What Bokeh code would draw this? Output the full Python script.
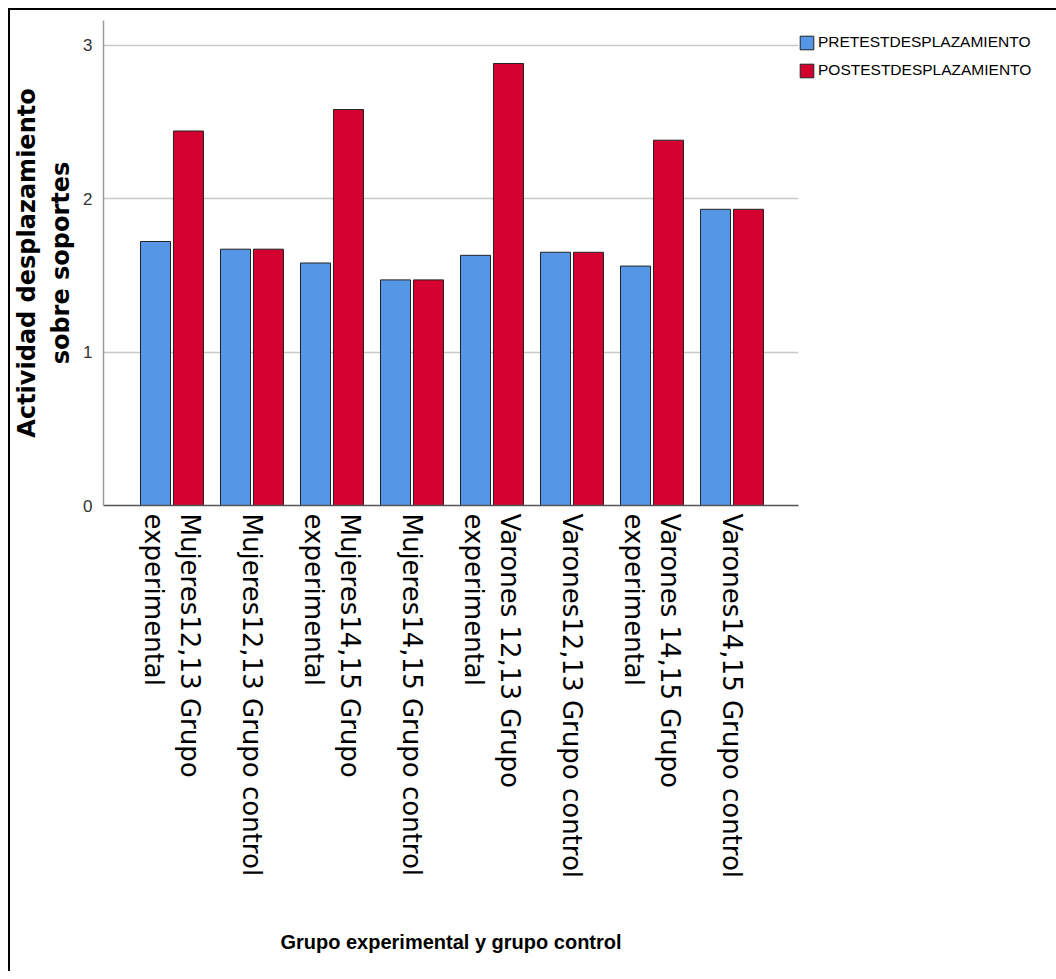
import math
from bokeh.plotting import figure
from bokeh.models import Range1d, FixedTicker, Legend, LegendItem, ColumnDataSource
from bokeh.transform import dodge
from bokeh.embed import file_html
from bokeh.resources import INLINE

groups = [
    "Mujeres12,13 Grupo\nexperimental",
    "Mujeres12,13 Grupo control",
    "Mujeres14,15 Grupo\nexperimental",
    "Mujeres14,15 Grupo control",
    "Varones 12,13 Grupo\nexperimental",
    "Varones12,13 Grupo control",
    "Varones 14,15 Grupo\nexperimental",
    "Varones14,15 Grupo control",
]
pretest = [1.72, 1.67, 1.58, 1.47, 1.63, 1.65, 1.56, 1.93]
posttest = [2.44, 1.67, 2.58, 1.47, 2.88, 1.65, 2.38, 1.93]
y_ticks = [0, 1, 2, 3]
series_names = ["PRETESTDESPLAZAMIENTO", "POSTESTDESPLAZAMIENTO"]

pos = list(range(len(groups)))
src = ColumnDataSource(dict(x=pos, pre=pretest, post=posttest))

SANS = "Liberation Sans"
FRAME_H = 485

p = figure(
    frame_width=695, frame_height=FRAME_H,
    x_range=Range1d(-0.856, 7.831), y_range=Range1d(0, 3.16),
    output_backend="svg", toolbar_location=None,
    min_border_left=92, min_border_top=10, min_border_right=254, min_border_bottom=466,
)
p.styles = {"margin-left": "8px", "margin-top": "8px",
            "border-left": "2px solid #000", "border-top": "2px solid #000"}
p.outline_line_color = None

r1 = p.vbar(x=dodge("x", -0.206, range=p.x_range), top="pre", width=0.375, source=src,
            fill_color="#5596E6", line_color="#222222", line_width=1)
r2 = p.vbar(x=dodge("x", 0.206, range=p.x_range), top="post", width=0.375, source=src,
            fill_color="#D4002F", line_color="#222222", line_width=1)

p.xgrid.visible = False
p.ygrid.grid_line_color = "#c8c8c8"
p.ygrid.grid_line_width = 1.5

p.yaxis.ticker = FixedTicker(ticks=y_ticks)
p.yaxis.axis_line_color = "#9a9a9a"
p.yaxis.axis_line_width = 1.5
p.yaxis.major_tick_line_color = None
p.yaxis.minor_tick_line_color = None
p.yaxis.major_label_text_font = SANS
p.yaxis.major_label_text_font_size = "17px"
p.yaxis.major_label_text_color = "#333333"
p.yaxis.major_label_standoff = 5
p.yaxis.axis_label = "Actividad desplazamiento\nsobre soportes"
p.yaxis.axis_label_text_font = "DejaVu Sans"
p.yaxis.axis_label_text_font_style = "bold"
p.yaxis.axis_label_text_font_size = "24px"
p.yaxis.axis_label_text_color = "#000000"
p.yaxis.axis_label_standoff = 5

p.xaxis.ticker = FixedTicker(ticks=pos)
p.xaxis.major_label_overrides = {i: g for i, g in enumerate(groups)}
p.xaxis.major_label_orientation = -math.pi / 2
p.xaxis.major_label_text_font = "DejaVu Sans"
p.xaxis.major_label_text_font_size = "26px"
p.xaxis.major_label_text_color = "#000000"
p.xaxis.major_label_standoff = 2
p.xaxis.axis_line_color = "#555555"
p.xaxis.axis_line_width = 1.5
p.xaxis.major_tick_line_color = None
p.xaxis.minor_tick_line_color = None
p.xaxis.axis_label = "Grupo experimental y grupo control"
p.xaxis.axis_label_text_font = SANS
p.xaxis.axis_label_text_font_style = "bold"
p.xaxis.axis_label_text_font_size = "20px"
p.xaxis.axis_label_text_color = "#000000"
p.xaxis.axis_label_standoff = 50

legend = Legend(
    items=[LegendItem(label=series_names[0], renderers=[r1]),
           LegendItem(label=series_names[1], renderers=[r2])],
    location=(0, 426), margin=0, padding=3,
    glyph_width=17, glyph_height=17, label_height=17, spacing=10, label_standoff=3,
    label_text_font=SANS, label_text_font_size="15.5px", label_text_color="#000000",
    border_line_color=None, background_fill_alpha=0,
)
p.add_layout(legend, "right")

open("out.html", "w").write(file_html(p, INLINE))
